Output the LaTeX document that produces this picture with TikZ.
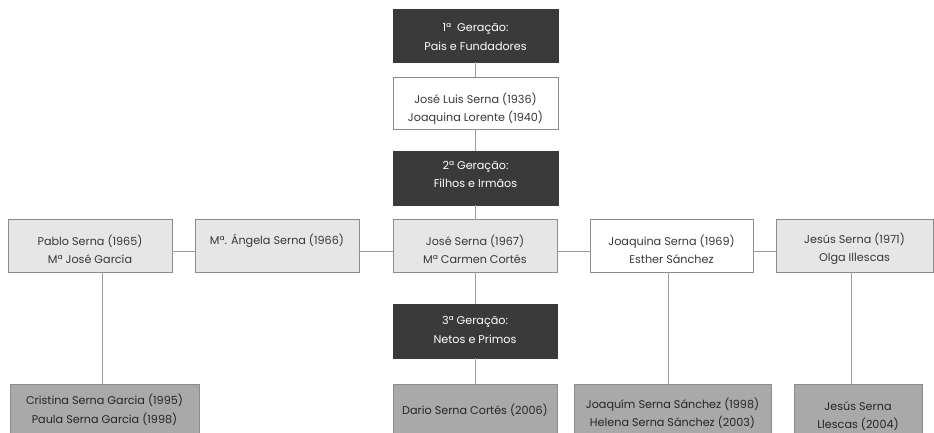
\documentclass[tikz,border=0pt]{standalone}
\usepackage{fontspec}
\setmainfont{Poppins}
\definecolor{darkbox}{HTML}{3A3A3A}
\definecolor{lightbox}{HTML}{E6E6E6}
\definecolor{midbox}{HTML}{A9A9A9}
\definecolor{edge}{HTML}{8C8C8C}
\definecolor{txt}{HTML}{383838}
\definecolor{conn}{HTML}{9A9A9A}
\newcommand\twol[3]{\raisebox{-#1pt}[0pt][0pt]{#2}\\\raisebox{-#1pt}[0pt][0pt]{#3}}
\newcommand\onel[2]{\raisebox{-#1pt}[0pt][0pt]{#2}}
\tikzset{
  box/.style={draw=edge, line width=0.8pt, inner sep=0pt, align=center,
    text=txt, font=\fontsize{11.2}{18.5}\selectfont},
  genbox/.style={box, fill=darkbox, draw=darkbox, text=white},
  whitebox/.style={box, fill=white},
  greybox/.style={box, fill=lightbox},
  kidbox/.style={box, fill=midbox, text=black!85},
  link/.style={draw=conn, line width=1pt}
}
\begin{document}
\begin{tikzpicture}[x=1pt,y=-1pt]
\useasboundingbox (0,0) rectangle (934,433);
\clip (0,0) rectangle (934,433);
% generation 1
\node[genbox, minimum width=165pt, minimum height=53pt] (g1) at (475.5,35.5) {\twol{5.3}{1ª\ \ Geração:}{Pais e Fundadores}};
\node[whitebox, minimum width=165pt, minimum height=52pt] (jl) at (475.5,103) {\twol{9.4}{José Luis Serna (1936)}{Joaquina Lorente (1940)}};
\node[genbox, minimum width=165pt, minimum height=54pt] (g2) at (475.5,178) {\twol{0.5}{2ª Geração:}{Filhos e Irmãos}};
% row 2
\node[greybox, minimum width=164pt, minimum height=53pt] (pablo) at (90,245.5) {\twol{9.2}{Pablo Serna (1965)}{Mª José García}};
\node[greybox, minimum width=164pt, minimum height=53pt] (angela) at (277,245.5) {\onel{-1.2}{Mª. Ángela Serna (1966)}};
\node[greybox, minimum width=164pt, minimum height=53pt] (jose) at (475,245.5) {\twol{8.8}{José Serna (1967)}{Mª Carmen Cortés}};
\node[whitebox, minimum width=163pt, minimum height=53pt] (joaquina) at (671.5,245.5) {\twol{9.2}{Joaquina Serna (1969)}{Esther Sánchez}};
\node[greybox, minimum width=157pt, minimum height=53pt] (jesus) at (854.5,245.5) {\twol{7.2}{Jesús Serna (1971)}{Olga Illescas}};
% generation 3
\node[genbox, minimum width=164pt, minimum height=54pt] (g3) at (475,331) {\twol{3.2}{3ª Geração:}{Netos e Primos}};
% row 3
\node[kidbox, minimum width=189pt, minimum height=56pt] (cristina) at (104.5,412) {\twol{2.2}{Cristina Serna Garcia (1995)}{Paula Serna Garcia (1998)}};
\node[kidbox, minimum width=164pt, minimum height=56pt] (dario) at (475,412) {\onel{2.3}{Dario Serna Cortés (2006)}};
\node[kidbox, minimum width=197pt, minimum height=56pt] (joaquim) at (672.5,412) {\twol{5.3}{Joaquím Serna Sánchez (1998)}{Helena Serna Sánchez (2003)}};
\node[kidbox, minimum width=128pt, minimum height=56pt] (jesusk) at (858,412) {\twol{7.3}{Jesús Serna}{Llescas (2004)}};
% connectors
\draw[link] (g1.south) -- (jl.north);
\draw[link] (jl.south) -- (g2.north);
\draw[link] (g2.south -| jose.north) -- (jose.north);
\draw[link] (jose.south) -- (g3.north);
\draw[link] (g3.south) -- (dario.north);
\draw[link] ([yshift=-5.5pt]pablo.east) -- ([yshift=-5.5pt]angela.west);
\draw[link] ([yshift=-5.5pt]angela.east) -- ([yshift=-5.5pt]jose.west);
\draw[link] ([yshift=-5.5pt]jose.east) -- ([yshift=-5.5pt]joaquina.west);
\draw[link] ([yshift=-5.5pt]joaquina.east) -- ([yshift=-5.5pt]jesus.west);
\draw[link] ([xshift=-2.5pt]cristina.north) -- ([xshift=-2.5pt]cristina.north |- pablo.south);
\draw[link] ([xshift=-4.5pt]joaquim.north) -- ([xshift=-4.5pt]joaquim.north |- joaquina.south);
\draw[link] ([xshift=-7pt]jesusk.north) -- ([xshift=-7pt]jesusk.north |- jesus.south);
\end{tikzpicture}
\end{document}
